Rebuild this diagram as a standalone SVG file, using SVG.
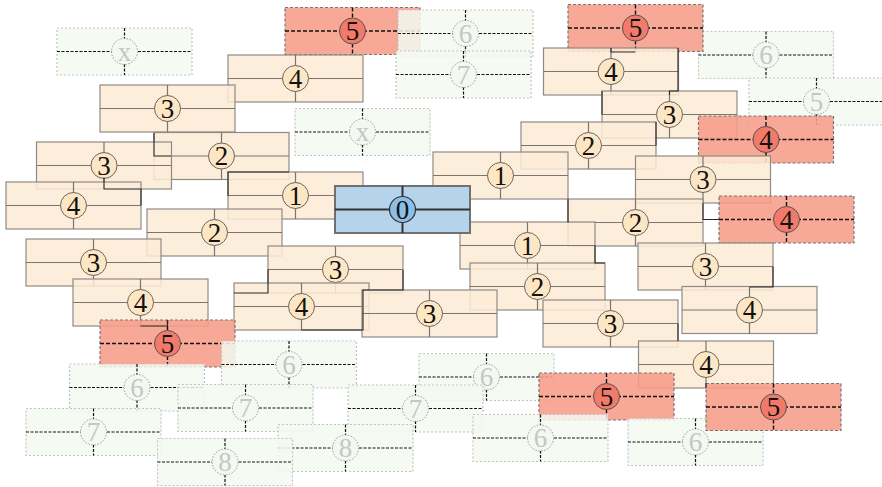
<svg xmlns="http://www.w3.org/2000/svg" width="882" height="487" viewBox="0 0 882 487">
<style>
  .box{stroke-width:1.2}
  .o .box{fill:#fdebd6;fill-opacity:0.85;stroke:#8f8a85}
  .o .ln{stroke:#7a7570;stroke-width:1.2}
  .o circle{fill:#fde6c4;stroke:#6a6560;stroke-width:1}
  .o text{fill:#111}
  .r .box{fill:#f79c89;fill-opacity:0.88;stroke:#777;stroke-dasharray:3 2}
  .r .ln{stroke:#111;stroke-width:1.4;stroke-dasharray:4 2}
  .r circle{fill:#f27a6a;stroke:#555;stroke-width:1}
  .r text{fill:#111}
  .g .box{fill:#f3f9f1;fill-opacity:0.85;stroke:#c4c4c4;stroke-dasharray:2 2}
  .g .ln{stroke:#111;stroke-width:1.2;stroke-dasharray:3 1.5}
  .g circle{fill:#f3f9f1;stroke:#999;stroke-width:1;stroke-dasharray:1.5 1.5}
  .g text{fill:#c6c6c6}
  .b .box{fill:#b5d3eb;stroke:#707070;stroke-width:2}
  .b .ln{stroke:#333;stroke-width:2}
  .b circle{fill:#8cbfe5;stroke:#333;stroke-width:1.2}
  .b text{fill:#111}
  text{font-family:"Liberation Serif","DejaVu Serif",serif;font-size:27px;text-anchor:middle}
  .edges polyline{fill:none;stroke:#2a2a2a;stroke-width:1.1}
</style>

<g id="n_xa" class="g" transform="translate(124.5,51.5)"><rect class="box" x="-67.5" y="-23.5" width="135" height="47"/><path class="ln" d="M-67.5 0H67.5M0 -23.5V23.5"/><circle r="13"/><text y="9">x</text></g>
<g id="n_xb" class="g" transform="translate(362.5,132)"><rect class="box" x="-67.5" y="-23.5" width="135" height="47"/><path class="ln" d="M-67.5 0H67.5M0 -23.5V23.5"/><circle r="13"/><text y="9">x</text></g>
<g id="n_6b" class="g" transform="translate(766,55)"><rect class="box" x="-67.5" y="-23.5" width="135" height="47"/><path class="ln" d="M-67.5 0H67.5M0 -23.5V23.5"/><circle r="13"/><text y="9">6</text></g>
<g id="n_5g" class="g" transform="translate(816.5,101.5)"><rect class="box" x="-67.5" y="-23.5" width="135" height="47"/><path class="ln" d="M-67.5 0H67.5M0 -23.5V23.5"/><circle r="13"/><text y="9">5</text></g>

<g id="n_5a" class="r" transform="translate(352.5,31)"><rect class="box" x="-67.5" y="-23.5" width="135" height="47"/><path class="ln" d="M-67.5 0H67.5M0 -23.5V23.5"/><circle r="13"/><text y="9">5</text></g>
<g id="n_6a" class="g" transform="translate(465.5,33.5)"><rect class="box" x="-67.5" y="-23.5" width="135" height="47"/><path class="ln" d="M-67.5 0H67.5M0 -23.5V23.5"/><circle r="13"/><text y="9">6</text></g>
<g id="n_7a" class="g" transform="translate(463.5,74.5)"><rect class="box" x="-67.5" y="-23.5" width="135" height="47"/><path class="ln" d="M-67.5 0H67.5M0 -23.5V23.5"/><circle r="13"/><text y="9">7</text></g>
<g id="n_5b" class="r" transform="translate(635.5,28)"><rect class="box" x="-67.5" y="-23.5" width="135" height="47"/><path class="ln" d="M-67.5 0H67.5M0 -23.5V23.5"/><circle r="13"/><text y="9">5</text></g>

<g id="n_4a" class="o" transform="translate(295.5,78.5)"><rect class="box" x="-67.5" y="-23.5" width="135" height="47"/><path class="ln" d="M-67.5 0H67.5M0 -23.5V23.5"/><circle r="13"/><text y="9">4</text></g>
<g id="n_4u" class="o" transform="translate(611,71.5)"><rect class="box" x="-67.5" y="-23.5" width="135" height="47"/><path class="ln" d="M-67.5 0H67.5M0 -23.5V23.5"/><circle r="13"/><text y="9">4</text></g>
<g id="n_3b" class="o" transform="translate(167.5,108.5)"><rect class="box" x="-67.5" y="-23.5" width="135" height="47"/><path class="ln" d="M-67.5 0H67.5M0 -23.5V23.5"/><circle r="13"/><text y="9">3</text></g>
<g id="n_3t" class="o" transform="translate(669.5,114.5)"><rect class="box" x="-67.5" y="-23.5" width="135" height="47"/><path class="ln" d="M-67.5 0H67.5M0 -23.5V23.5"/><circle r="13"/><text y="9">3</text></g>
<g id="n_4r1" class="r" transform="translate(766,139.5)"><rect class="box" x="-67.5" y="-23.5" width="135" height="47"/><path class="ln" d="M-67.5 0H67.5M0 -23.5V23.5"/><circle r="13"/><text y="9">4</text></g>
<g id="n_2q" class="o" transform="translate(588.5,145.5)"><rect class="box" x="-67.5" y="-23.5" width="135" height="47"/><path class="ln" d="M-67.5 0H67.5M0 -23.5V23.5"/><circle r="13"/><text y="9">2</text></g>
<g id="n_2c" class="o" transform="translate(221.5,156)"><rect class="box" x="-67.5" y="-23.5" width="135" height="47"/><path class="ln" d="M-67.5 0H67.5M0 -23.5V23.5"/><circle r="13"/><text y="9">2</text></g>
<g id="n_3d" class="o" transform="translate(104,165.5)"><rect class="box" x="-67.5" y="-23.5" width="135" height="47"/><path class="ln" d="M-67.5 0H67.5M0 -23.5V23.5"/><circle r="13"/><text y="9">3</text></g>
<g id="n_4e" class="o" transform="translate(73.5,205.5)"><rect class="box" x="-67.5" y="-23.5" width="135" height="47"/><path class="ln" d="M-67.5 0H67.5M0 -23.5V23.5"/><circle r="13"/><text y="9">4</text></g>
<g id="n_1f" class="o" transform="translate(295.5,195.5)"><rect class="box" x="-67.5" y="-23.5" width="135" height="47"/><path class="ln" d="M-67.5 0H67.5M0 -23.5V23.5"/><circle r="13"/><text y="9">1</text></g>
<g id="n_1m" class="o" transform="translate(500.5,175.5)"><rect class="box" x="-67.5" y="-23.5" width="135" height="47"/><path class="ln" d="M-67.5 0H67.5M0 -23.5V23.5"/><circle r="13"/><text y="9">1</text></g>
<g id="n_3s" class="o" transform="translate(703,179.5)"><rect class="box" x="-67.5" y="-23.5" width="135" height="47"/><path class="ln" d="M-67.5 0H67.5M0 -23.5V23.5"/><circle r="13"/><text y="9">3</text></g>
<g id="n_2r" class="o" transform="translate(635.5,222.5)"><rect class="box" x="-67.5" y="-23.5" width="135" height="47"/><path class="ln" d="M-67.5 0H67.5M0 -23.5V23.5"/><circle r="13"/><text y="9">2</text></g>
<g id="n_4r2" class="r" transform="translate(786.5,219.5)"><rect class="box" x="-67.5" y="-23.5" width="135" height="47"/><path class="ln" d="M-67.5 0H67.5M0 -23.5V23.5"/><circle r="13"/><text y="9">4</text></g>
<g id="n_2g" class="o" transform="translate(214.5,232.5)"><rect class="box" x="-67.5" y="-23.5" width="135" height="47"/><path class="ln" d="M-67.5 0H67.5M0 -23.5V23.5"/><circle r="13"/><text y="9">2</text></g>
<g id="n_1n" class="o" transform="translate(527.5,245.5)"><rect class="box" x="-67.5" y="-23.5" width="135" height="47"/><path class="ln" d="M-67.5 0H67.5M0 -23.5V23.5"/><circle r="13"/><text y="9">1</text></g>
<g id="n_3h" class="o" transform="translate(93.5,262.5)"><rect class="box" x="-67.5" y="-23.5" width="135" height="47"/><path class="ln" d="M-67.5 0H67.5M0 -23.5V23.5"/><circle r="13"/><text y="9">3</text></g>
<g id="n_3v" class="o" transform="translate(705.5,266.5)"><rect class="box" x="-67.5" y="-23.5" width="135" height="47"/><path class="ln" d="M-67.5 0H67.5M0 -23.5V23.5"/><circle r="13"/><text y="9">3</text></g>
<g id="n_3j" class="o" transform="translate(335.5,269.5)"><rect class="box" x="-67.5" y="-23.5" width="135" height="47"/><path class="ln" d="M-67.5 0H67.5M0 -23.5V23.5"/><circle r="13"/><text y="9">3</text></g>
<g id="n_2o" class="o" transform="translate(537.5,286.5)"><rect class="box" x="-67.5" y="-23.5" width="135" height="47"/><path class="ln" d="M-67.5 0H67.5M0 -23.5V23.5"/><circle r="13"/><text y="9">2</text></g>
<g id="n_4i" class="o" transform="translate(140.5,302.5)"><rect class="box" x="-67.5" y="-23.5" width="135" height="47"/><path class="ln" d="M-67.5 0H67.5M0 -23.5V23.5"/><circle r="13"/><text y="9">4</text></g>
<g id="n_4k" class="o" transform="translate(301.5,306.5)"><rect class="box" x="-67.5" y="-23.5" width="135" height="47"/><path class="ln" d="M-67.5 0H67.5M0 -23.5V23.5"/><circle r="13"/><text y="9">4</text></g>
<g id="n_3l" class="o" transform="translate(429.5,313.5)"><rect class="box" x="-67.5" y="-23.5" width="135" height="47"/><path class="ln" d="M-67.5 0H67.5M0 -23.5V23.5"/><circle r="13"/><text y="9">3</text></g>
<g id="n_4w" class="o" transform="translate(749.5,310)"><rect class="box" x="-67.5" y="-23.5" width="135" height="47"/><path class="ln" d="M-67.5 0H67.5M0 -23.5V23.5"/><circle r="13"/><text y="9">4</text></g>
<g id="n_3p" class="o" transform="translate(610.5,323.5)"><rect class="box" x="-67.5" y="-23.5" width="135" height="47"/><path class="ln" d="M-67.5 0H67.5M0 -23.5V23.5"/><circle r="13"/><text y="9">3</text></g>
<g id="n_5c" class="r" transform="translate(167.5,343.5)"><rect class="box" x="-67.5" y="-23.5" width="135" height="47"/><path class="ln" d="M-67.5 0H67.5M0 -23.5V23.5"/><circle r="13"/><text y="9">5</text></g>
<g id="n_4y" class="o" transform="translate(706,364.5)"><rect class="box" x="-67.5" y="-23.5" width="135" height="47"/><path class="ln" d="M-67.5 0H67.5M0 -23.5V23.5"/><circle r="13"/><text y="9">4</text></g>

<g id="n_6c" class="g" transform="translate(289,364.5)"><rect class="box" x="-67.5" y="-23.5" width="135" height="47"/><path class="ln" d="M-67.5 0H67.5M0 -23.5V23.5"/><circle r="13"/><text y="9">6</text></g>
<g id="n_6d" class="g" transform="translate(137,387.5)"><rect class="box" x="-67.5" y="-23.5" width="135" height="47"/><path class="ln" d="M-67.5 0H67.5M0 -23.5V23.5"/><circle r="13"/><text y="9">6</text></g>
<g id="n_6e" class="g" transform="translate(486.5,377)"><rect class="box" x="-67.5" y="-23.5" width="135" height="47"/><path class="ln" d="M-67.5 0H67.5M0 -23.5V23.5"/><circle r="13"/><text y="9">6</text></g>
<g id="n_7d" class="g" transform="translate(415.5,408.5)"><rect class="box" x="-67.5" y="-23.5" width="135" height="47"/><path class="ln" d="M-67.5 0H67.5M0 -23.5V23.5"/><circle r="13"/><text y="9">7</text></g>
<g id="n_7b" class="g" transform="translate(245.5,408)"><rect class="box" x="-67.5" y="-23.5" width="135" height="47"/><path class="ln" d="M-67.5 0H67.5M0 -23.5V23.5"/><circle r="13"/><text y="9">7</text></g>
<g id="n_7c" class="g" transform="translate(93.5,432)"><rect class="box" x="-67.5" y="-23.5" width="135" height="47"/><path class="ln" d="M-67.5 0H67.5M0 -23.5V23.5"/><circle r="13"/><text y="9">7</text></g>
<g id="n_5d" class="r" transform="translate(606.5,396.5)"><rect class="box" x="-67.5" y="-23.5" width="135" height="47"/><path class="ln" d="M-67.5 0H67.5M0 -23.5V23.5"/><circle r="13"/><text y="9">5</text></g>
<g id="n_6f" class="g" transform="translate(540.5,438)"><rect class="box" x="-67.5" y="-23.5" width="135" height="47"/><path class="ln" d="M-67.5 0H67.5M0 -23.5V23.5"/><circle r="13"/><text y="9">6</text></g>
<g id="n_6g" class="g" transform="translate(695.5,442)"><rect class="box" x="-67.5" y="-23.5" width="135" height="47"/><path class="ln" d="M-67.5 0H67.5M0 -23.5V23.5"/><circle r="13"/><text y="9">6</text></g>
<g id="n_5e" class="r" transform="translate(773.5,407)"><rect class="box" x="-67.5" y="-23.5" width="135" height="47"/><path class="ln" d="M-67.5 0H67.5M0 -23.5V23.5"/><circle r="13"/><text y="9">5</text></g>
<g id="n_8b" class="g" transform="translate(345.5,448)"><rect class="box" x="-67.5" y="-23.5" width="135" height="47"/><path class="ln" d="M-67.5 0H67.5M0 -23.5V23.5"/><circle r="13"/><text y="9">8</text></g>
<g id="n_8a" class="g" transform="translate(225,462)"><rect class="box" x="-67.5" y="-23.5" width="135" height="47"/><path class="ln" d="M-67.5 0H67.5M0 -23.5V23.5"/><circle r="13"/><text y="9">8</text></g>

<g id="n_0" class="b" transform="translate(402.5,209.5)"><rect class="box" x="-67.5" y="-23.5" width="135" height="47"/><path class="ln" d="M-67.5 0H67.5M0 -23.5V23.5"/><circle r="13"/><text y="9">0</text></g>

<g id="edges" class="edges">
  <polyline points="403,270 403,290 363,290 363,313.5"/>
  <polyline points="301.5,330 363,330 363,313.5"/>
  <polyline points="104,177.5 104,189 141,189 141,205.5"/>
  <polyline points="154,133 154,156 171,156"/>
  <polyline points="228,196 228,172 289,172"/>
  <polyline points="611,48 611,52 635.5,52"/>
  <polyline points="678,48 678,91 669.5,91 669.5,95"/>
  <polyline points="602,91 602,114.5"/>
  <polyline points="568,199 568,222.5"/>
  <polyline points="703,203 703,219.5 719,219.5"/>
  <polyline points="656,122 656,145.5"/>
  <polyline points="773,266.5 773,287 749.5,287"/>
  <polyline points="678,323.5 678,341"/>
  <polyline points="595,245.5 595,263 605,263"/>
  <polyline points="268,269.5 268,293 234,293"/>
  <polyline points="140.5,326 167.5,326 167.5,320"/>
  <polyline points="706,388 706,383"/>
</g>
</svg>
